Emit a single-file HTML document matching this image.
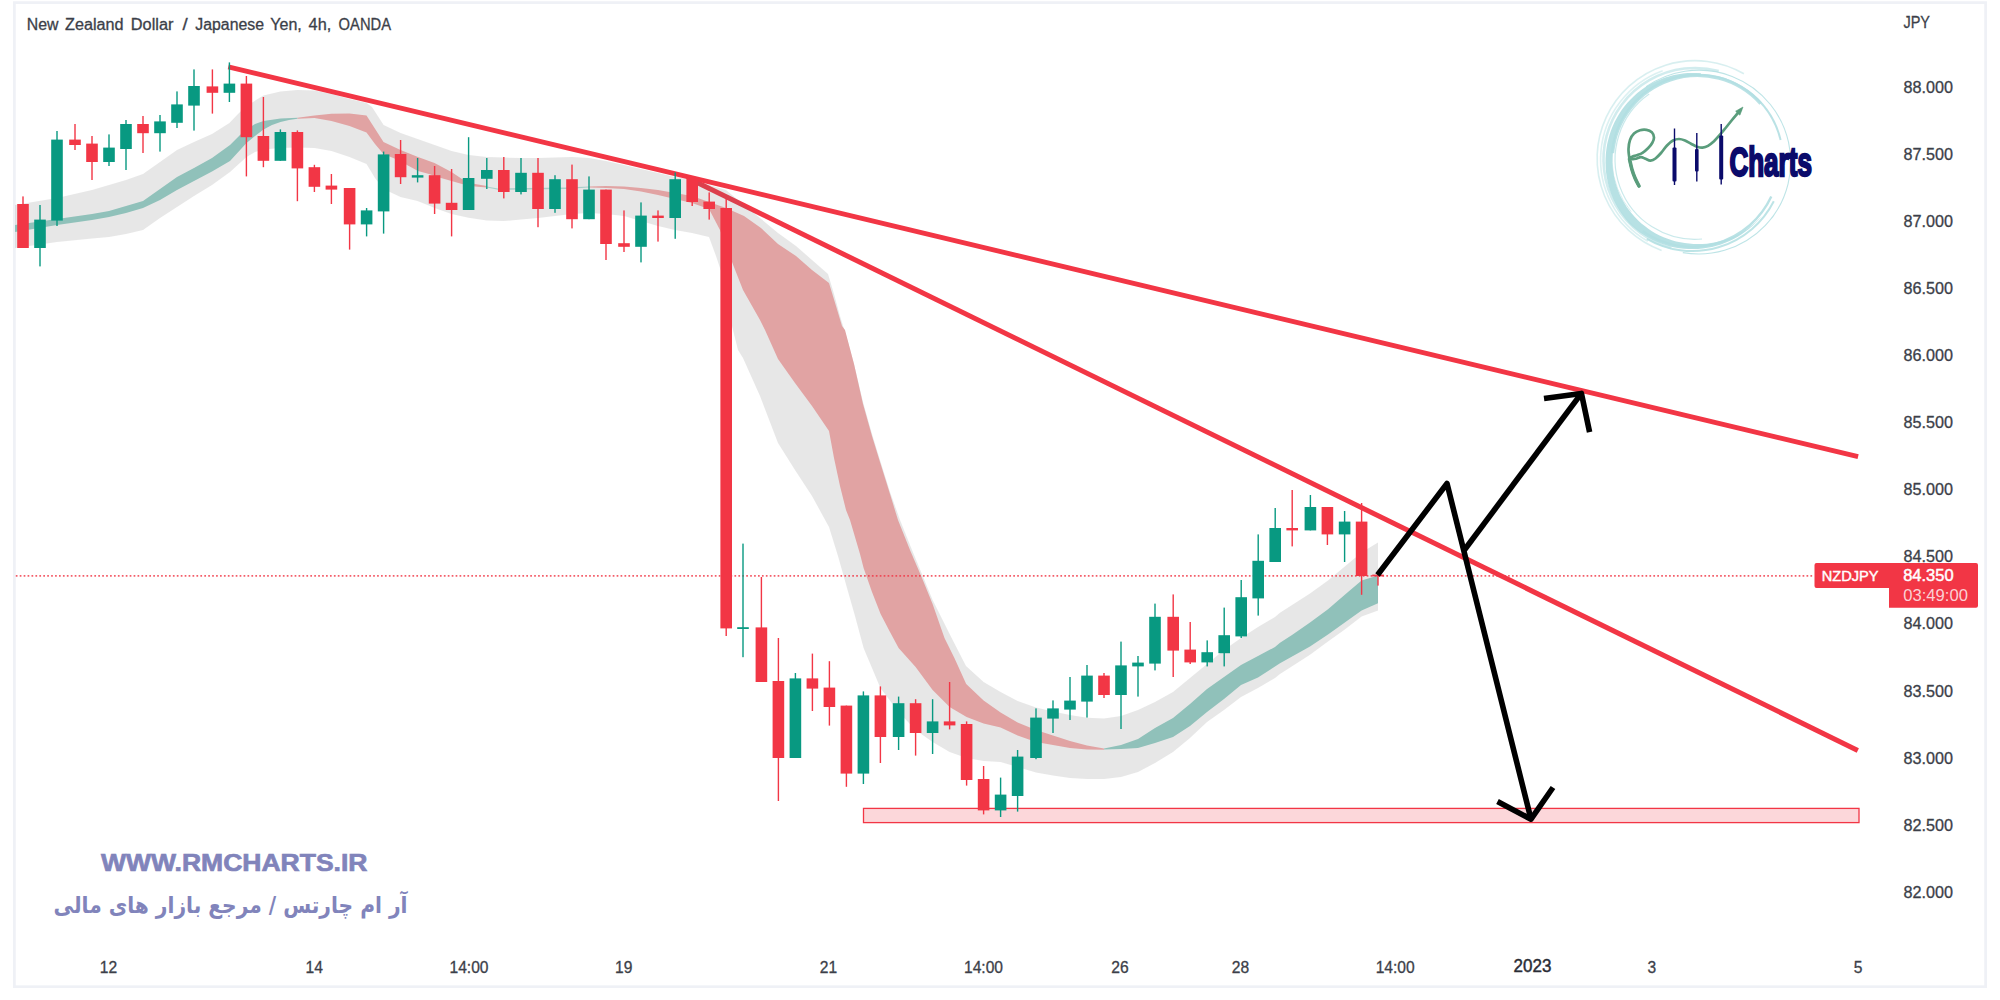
<!DOCTYPE html>
<html><head><meta charset="utf-8"><title>NZDJPY 4h</title>
<style>
html,body{margin:0;padding:0;background:#fff;}
body{width:2000px;height:1000px;overflow:hidden;font-family:"Liberation Sans","DejaVu Sans",sans-serif;}
svg{display:block}
.ax{font-family:"Liberation Sans",sans-serif;font-size:15.6px;fill:#3c3f49;stroke:#3c3f49;stroke-width:0.3px;}
.t{font-family:"Liberation Sans",sans-serif;}
</style></head><body>
<svg width="2000" height="1000" viewBox="0 0 2000 1000">
<rect x="0" y="0" width="2000" height="1000" fill="#ffffff"/>
<rect x="14.4" y="2.6" width="1971.2" height="984.1" fill="#ffffff" stroke="#eff1f6" stroke-width="2.7"/>

<g stroke="#f23645" stroke-width="4.7" stroke-linecap="butt">
<line x1="228.3" y1="66.8" x2="1858.1" y2="456.7" stroke-width="4.9"/>
<line x1="692.5" y1="180.3" x2="1857.8" y2="750.4" stroke-width="5"/>
</g>
<g>
<polygon points="15.0,205.0 57.0,198.0 92.0,190.0 126.0,180.0 143.0,174.0 160.0,162.0 177.0,150.0 194.0,142.0 212.0,134.0 229.4,123.0 238.0,114.0 246.4,106.0 263.4,95.6 280.4,91.6 297.4,90.0 314.4,90.4 331.4,94.0 349.6,99.0 366.6,103.0 372.0,107.0 383.6,125.0 400.6,133.0 417.6,139.0 434.6,145.0 451.6,151.0 468.6,155.0 486.8,157.0 503.8,157.6 521.0,158.0 538.0,158.0 555.0,157.6 572.0,157.0 589.0,158.0 606.0,161.0 624.0,165.0 641.0,169.0 658.0,173.0 675.2,177.0 692.2,180.0 709.2,185.0 726.0,190.0 744.0,205.0 760.0,218.0 778.0,233.0 796.0,246.0 812.0,260.0 828.0,274.0 834.0,294.0 840.0,316.0 848.0,342.0 854.0,364.0 863.0,402.0 872.0,434.0 880.0,460.0 890.0,492.0 900.0,520.0 912.0,550.0 932.6,600.0 949.6,634.0 966.0,666.0 983.6,682.0 1000.6,692.0 1017.6,701.0 1036.0,707.5 1053.0,711.5 1070.0,715.0 1087.0,717.8 1104.0,718.6 1121.0,716.0 1138.0,710.0 1155.0,702.0 1173.0,692.0 1190.0,678.0 1207.0,664.0 1224.0,650.0 1241.0,638.0 1258.0,627.0 1275.0,617.0 1280.0,612.8 1310.0,593.6 1328.0,580.4 1344.8,566.6 1361.6,552.5 1378.0,542.6 1378.0,610.6 1361.6,616.4 1344.8,629.6 1328.0,641.6 1310.0,654.8 1280.0,674.0 1275.0,678.0 1258.0,688.0 1241.0,697.0 1224.0,710.0 1207.0,722.0 1190.0,738.0 1173.0,752.0 1155.0,763.0 1138.0,772.0 1121.0,777.0 1104.0,779.0 1087.0,779.0 1070.0,778.0 1053.0,775.6 1036.0,772.5 1017.6,767.0 1000.6,762.0 983.6,761.0 966.6,758.0 949.6,752.0 932.6,742.0 915.6,730.0 898.6,712.0 880.4,688.0 872.0,668.0 863.6,648.0 855.0,616.0 847.0,588.0 838.0,556.0 829.0,527.0 812.0,496.0 795.0,470.0 778.0,443.0 760.0,396.0 743.0,358.0 738.0,350.0 732.0,326.0 724.0,280.0 716.0,256.0 709.0,237.0 692.0,233.0 675.0,230.0 658.0,226.0 641.0,221.0 624.0,216.0 606.0,214.0 589.0,213.0 572.0,214.0 555.0,216.0 538.0,218.0 521.0,219.6 503.8,221.0 486.8,220.6 468.6,217.8 451.6,214.0 434.6,208.0 430.0,206.0 417.5,201.0 400.5,197.0 383.5,189.0 375.0,178.0 366.5,164.0 349.5,157.0 331.5,151.0 314.5,148.0 297.5,147.5 280.5,148.0 263.5,149.5 255.0,152.0 246.5,157.0 230.0,172.0 212.0,185.0 194.0,196.0 177.0,207.0 160.0,218.0 143.0,230.0 126.0,234.0 109.0,237.0 92.0,238.6 57.0,242.0 15.0,248.0" fill="rgba(110,110,110,0.17)" />
<polygon points="15.0,225.0 57.0,219.0 92.0,214.0 109.0,211.0 126.0,206.0 143.0,201.0 160.0,189.0 177.0,177.0 194.0,168.0 212.0,158.0 230.0,145.0 240.0,135.0 246.5,129.5 255.0,124.0 263.5,121.0 280.5,118.5 297.5,117.8 297.5,118.8 289.0,120.0 280.5,122.0 272.0,125.0 263.5,129.5 255.0,136.0 246.5,143.0 230.0,161.0 212.0,171.5 194.0,181.0 177.0,190.0 160.0,200.0 143.0,208.0 126.0,213.0 109.0,217.0 92.0,220.0 57.0,225.0 15.0,232.0" fill="#90c1ba" />
<polygon points="297.5,117.8 314.5,115.5 331.5,113.8 349.5,113.5 366.5,115.5 383.5,142.0 400.5,150.0 418.0,157.0 434.5,163.0 451.5,172.0 462.0,179.0 475.0,184.0 486.8,186.0 486.8,187.4 475.0,186.5 462.0,184.0 451.5,181.0 441.0,178.0 429.0,174.0 418.0,171.0 407.0,165.0 400.5,161.0 383.5,154.0 375.0,144.0 366.5,132.5 349.5,126.0 331.5,121.0 314.5,118.0 297.5,118.8" fill="#e1a3a3" />
<polygon points="486.8,186.4 498.0,188.5 566.0,187.6 589.0,186.6 589.0,187.6 566.0,189.0 498.0,189.8 486.8,187.4" fill="#a9cfc9" />
<polygon points="589.0,186.4 606.0,186.0 624.0,186.4 641.0,188.0 658.0,190.0 675.0,193.0 692.0,196.0 709.0,202.0 726.0,208.0 744.0,216.0 761.0,228.0 778.0,244.0 796.0,256.0 812.0,270.0 829.0,283.0 836.0,306.0 842.0,326.0 845.0,330.0 854.0,364.0 863.0,404.0 872.0,436.0 880.0,462.0 890.0,494.0 898.0,520.0 910.0,550.0 922.0,578.0 932.6,604.0 944.5,638.0 954.4,658.0 966.2,684.0 983.6,700.5 1000.6,712.5 1017.6,722.5 1036.0,730.0 1053.0,735.5 1070.0,741.0 1087.0,745.6 1104.0,748.6 1104.0,749.8 1087.0,749.6 1070.0,748.0 1053.0,745.0 1036.0,742.0 1017.6,735.5 1000.6,727.5 983.6,723.5 966.6,717.0 949.6,707.0 932.6,690.0 915.6,667.0 898.6,648.0 890.0,632.0 880.6,614.0 872.0,592.0 863.6,568.0 860.0,554.0 850.0,520.0 846.0,510.0 840.0,486.0 834.0,458.0 829.0,431.0 812.0,406.0 795.0,383.0 778.0,359.0 765.0,330.0 760.0,320.0 743.0,290.0 732.0,262.0 720.0,230.0 709.0,209.0 692.0,203.0 675.0,199.0 658.0,195.0 641.0,191.6 624.0,189.0 606.0,188.0 589.0,187.6" fill="#e1a3a3" />
<polygon points="1104.0,748.6 1121.0,745.0 1138.0,739.0 1155.0,728.0 1173.0,718.0 1190.0,704.0 1207.0,689.0 1224.0,677.0 1241.0,665.0 1258.0,656.0 1275.0,647.0 1280.0,642.8 1292.0,635.0 1310.0,622.4 1328.0,609.2 1344.8,594.8 1361.6,580.4 1378.0,575.6 1378.0,603.2 1361.6,610.4 1344.8,622.4 1328.0,634.4 1310.0,646.4 1280.0,663.2 1258.0,677.5 1241.0,685.0 1224.0,699.0 1207.0,712.0 1190.0,726.0 1173.0,737.0 1155.0,743.0 1138.0,748.0 1121.0,749.0 1104.0,749.4" fill="#90c1ba" />
</g>
<rect x="863.5" y="808.4" width="995.5" height="14.2" fill="rgba(242,54,69,0.2)" stroke="#f23645" stroke-width="1.3"/>
<line x1="15.8" y1="575.85" x2="1813" y2="575.85" stroke="#f23645" stroke-width="1.7" stroke-dasharray="1.7 2.227" opacity="0.8"/>
<g>
<rect x="22.3" y="196.4" width="1.4" height="51.6" fill="#f23645"/>
<rect x="17.2" y="204.0" width="11.6" height="44.0" fill="#f23645"/>
<rect x="39.3" y="205.0" width="1.4" height="61.4" fill="#089981"/>
<rect x="34.2" y="219.6" width="11.6" height="28.4" fill="#089981"/>
<rect x="56.3" y="131.0" width="1.4" height="95.0" fill="#089981"/>
<rect x="51.2" y="139.6" width="11.6" height="81.0" fill="#089981"/>
<rect x="74.3" y="124.0" width="1.4" height="26.0" fill="#f23645"/>
<rect x="69.2" y="139.6" width="11.6" height="5.4" fill="#f23645"/>
<rect x="91.3" y="136.0" width="1.4" height="44.0" fill="#f23645"/>
<rect x="86.2" y="143.6" width="11.6" height="18.4" fill="#f23645"/>
<rect x="108.3" y="134.4" width="1.4" height="31.6" fill="#089981"/>
<rect x="103.2" y="147.6" width="11.6" height="14.4" fill="#089981"/>
<rect x="125.3" y="120.0" width="1.4" height="50.0" fill="#089981"/>
<rect x="120.2" y="124.0" width="11.6" height="25.0" fill="#089981"/>
<rect x="142.3" y="116.0" width="1.4" height="37.0" fill="#f23645"/>
<rect x="137.2" y="124.0" width="11.6" height="9.2" fill="#f23645"/>
<rect x="159.3" y="115.0" width="1.4" height="36.6" fill="#089981"/>
<rect x="154.2" y="121.4" width="11.6" height="11.8" fill="#089981"/>
<rect x="176.3" y="91.4" width="1.4" height="36.6" fill="#089981"/>
<rect x="171.2" y="104.4" width="11.6" height="18.4" fill="#089981"/>
<rect x="193.3" y="69.4" width="1.4" height="61.2" fill="#089981"/>
<rect x="188.2" y="86.0" width="11.6" height="19.6" fill="#089981"/>
<rect x="211.7" y="69.4" width="1.4" height="44.2" fill="#f23645"/>
<rect x="206.6" y="86.4" width="11.6" height="6.4" fill="#f23645"/>
<rect x="228.7" y="62.4" width="1.4" height="39.6" fill="#089981"/>
<rect x="223.6" y="83.6" width="11.6" height="9.2" fill="#089981"/>
<rect x="245.7" y="76.0" width="1.4" height="100.4" fill="#f23645"/>
<rect x="240.6" y="83.6" width="11.6" height="53.6" fill="#f23645"/>
<rect x="262.7" y="97.0" width="1.4" height="70.2" fill="#f23645"/>
<rect x="257.6" y="136.0" width="11.6" height="24.8" fill="#f23645"/>
<rect x="279.7" y="129.4" width="1.4" height="31.4" fill="#089981"/>
<rect x="274.6" y="132.0" width="11.6" height="28.8" fill="#089981"/>
<rect x="296.7" y="130.4" width="1.4" height="70.8" fill="#f23645"/>
<rect x="291.6" y="132.0" width="11.6" height="36.4" fill="#f23645"/>
<rect x="313.7" y="164.8" width="1.4" height="27.2" fill="#f23645"/>
<rect x="308.6" y="167.2" width="11.6" height="19.6" fill="#f23645"/>
<rect x="330.7" y="174.0" width="1.4" height="30.0" fill="#f23645"/>
<rect x="325.6" y="185.6" width="11.6" height="4.0" fill="#f23645"/>
<rect x="348.9" y="188.0" width="1.4" height="61.6" fill="#f23645"/>
<rect x="343.8" y="188.0" width="11.6" height="36.4" fill="#f23645"/>
<rect x="365.9" y="208.0" width="1.4" height="28.4" fill="#089981"/>
<rect x="360.8" y="210.4" width="11.6" height="14.0" fill="#089981"/>
<rect x="382.9" y="151.6" width="1.4" height="82.0" fill="#089981"/>
<rect x="377.8" y="154.4" width="11.6" height="57.0" fill="#089981"/>
<rect x="399.9" y="140.0" width="1.4" height="44.0" fill="#f23645"/>
<rect x="394.8" y="154.0" width="11.6" height="23.2" fill="#f23645"/>
<rect x="416.9" y="158.0" width="1.4" height="24.4" fill="#089981"/>
<rect x="411.8" y="175.2" width="11.6" height="2.4" fill="#089981"/>
<rect x="433.9" y="166.0" width="1.4" height="48.0" fill="#f23645"/>
<rect x="428.8" y="175.2" width="11.6" height="28.4" fill="#f23645"/>
<rect x="450.9" y="169.0" width="1.4" height="67.4" fill="#f23645"/>
<rect x="445.8" y="202.8" width="11.6" height="7.2" fill="#f23645"/>
<rect x="467.9" y="137.2" width="1.4" height="72.8" fill="#089981"/>
<rect x="462.8" y="178.0" width="11.6" height="32.0" fill="#089981"/>
<rect x="486.1" y="158.0" width="1.4" height="31.0" fill="#089981"/>
<rect x="481.0" y="170.0" width="11.6" height="8.8" fill="#089981"/>
<rect x="503.1" y="157.0" width="1.4" height="41.4" fill="#f23645"/>
<rect x="498.0" y="170.0" width="11.6" height="22.0" fill="#f23645"/>
<rect x="520.3" y="158.0" width="1.4" height="36.4" fill="#089981"/>
<rect x="515.2" y="172.8" width="11.6" height="19.2" fill="#089981"/>
<rect x="537.3" y="158.0" width="1.4" height="69.2" fill="#f23645"/>
<rect x="532.2" y="172.8" width="11.6" height="36.2" fill="#f23645"/>
<rect x="554.3" y="175.2" width="1.4" height="37.6" fill="#089981"/>
<rect x="549.2" y="179.2" width="11.6" height="29.8" fill="#089981"/>
<rect x="571.3" y="164.6" width="1.4" height="63.8" fill="#f23645"/>
<rect x="566.2" y="179.2" width="11.6" height="40.0" fill="#f23645"/>
<rect x="588.3" y="176.4" width="1.4" height="42.8" fill="#089981"/>
<rect x="583.2" y="189.6" width="11.6" height="29.6" fill="#089981"/>
<rect x="605.3" y="189.6" width="1.4" height="70.4" fill="#f23645"/>
<rect x="600.2" y="189.6" width="11.6" height="54.4" fill="#f23645"/>
<rect x="623.3" y="210.4" width="1.4" height="41.6" fill="#f23645"/>
<rect x="618.2" y="243.2" width="11.6" height="3.6" fill="#f23645"/>
<rect x="640.3" y="202.4" width="1.4" height="60.0" fill="#089981"/>
<rect x="635.2" y="215.6" width="11.6" height="31.2" fill="#089981"/>
<rect x="657.3" y="210.4" width="1.4" height="31.2" fill="#f23645"/>
<rect x="652.2" y="215.6" width="11.6" height="2.4" fill="#f23645"/>
<rect x="674.5" y="172.4" width="1.4" height="66.4" fill="#089981"/>
<rect x="669.4" y="179.2" width="11.6" height="38.8" fill="#089981"/>
<rect x="691.5" y="177.0" width="1.4" height="29.0" fill="#f23645"/>
<rect x="686.4" y="178.0" width="11.6" height="24.0" fill="#f23645"/>
<rect x="708.5" y="192.4" width="1.4" height="27.2" fill="#f23645"/>
<rect x="703.4" y="201.6" width="11.6" height="7.4" fill="#f23645"/>
<rect x="725.5" y="199.0" width="1.4" height="437.0" fill="#f23645"/>
<rect x="720.4" y="208.0" width="11.6" height="420.4" fill="#f23645"/>
<rect x="742.3" y="543.6" width="1.4" height="113.6" fill="#089981"/>
<rect x="737.2" y="627.2" width="11.6" height="1.8" fill="#089981"/>
<rect x="760.7" y="577.0" width="1.4" height="105.0" fill="#f23645"/>
<rect x="755.6" y="627.4" width="11.6" height="54.6" fill="#f23645"/>
<rect x="777.7" y="638.0" width="1.4" height="163.0" fill="#f23645"/>
<rect x="772.6" y="681.0" width="11.6" height="77.0" fill="#f23645"/>
<rect x="794.7" y="673.0" width="1.4" height="85.0" fill="#089981"/>
<rect x="789.6" y="678.4" width="11.6" height="79.6" fill="#089981"/>
<rect x="811.7" y="653.6" width="1.4" height="57.4" fill="#f23645"/>
<rect x="806.6" y="678.4" width="11.6" height="10.2" fill="#f23645"/>
<rect x="828.7" y="661.2" width="1.4" height="64.4" fill="#f23645"/>
<rect x="823.6" y="687.6" width="11.6" height="19.4" fill="#f23645"/>
<rect x="845.7" y="705.6" width="1.4" height="81.2" fill="#f23645"/>
<rect x="840.6" y="705.6" width="11.6" height="68.0" fill="#f23645"/>
<rect x="862.7" y="691.4" width="1.4" height="92.6" fill="#089981"/>
<rect x="857.6" y="695.4" width="11.6" height="78.2" fill="#089981"/>
<rect x="879.7" y="686.4" width="1.4" height="76.6" fill="#f23645"/>
<rect x="874.6" y="695.4" width="11.6" height="41.6" fill="#f23645"/>
<rect x="897.9" y="696.6" width="1.4" height="53.4" fill="#089981"/>
<rect x="892.8" y="703.2" width="11.6" height="33.8" fill="#089981"/>
<rect x="914.9" y="699.2" width="1.4" height="56.4" fill="#f23645"/>
<rect x="909.8" y="703.2" width="11.6" height="29.8" fill="#f23645"/>
<rect x="931.9" y="699.2" width="1.4" height="54.8" fill="#089981"/>
<rect x="926.8" y="721.4" width="11.6" height="11.6" fill="#089981"/>
<rect x="948.9" y="682.0" width="1.4" height="47.4" fill="#f23645"/>
<rect x="943.8" y="721.4" width="11.6" height="4.0" fill="#f23645"/>
<rect x="965.9" y="721.4" width="1.4" height="64.2" fill="#f23645"/>
<rect x="960.8" y="724.0" width="11.6" height="56.0" fill="#f23645"/>
<rect x="982.9" y="766.0" width="1.4" height="48.4" fill="#f23645"/>
<rect x="977.8" y="779.0" width="11.6" height="31.4" fill="#f23645"/>
<rect x="999.9" y="777.6" width="1.4" height="39.4" fill="#089981"/>
<rect x="994.8" y="794.6" width="11.6" height="15.8" fill="#089981"/>
<rect x="1016.9" y="750.0" width="1.4" height="61.6" fill="#089981"/>
<rect x="1011.8" y="756.6" width="11.6" height="39.4" fill="#089981"/>
<rect x="1035.3" y="708.4" width="1.4" height="50.8" fill="#089981"/>
<rect x="1030.2" y="717.6" width="11.6" height="40.4" fill="#089981"/>
<rect x="1052.3" y="700.4" width="1.4" height="32.6" fill="#089981"/>
<rect x="1047.2" y="708.4" width="11.6" height="10.2" fill="#089981"/>
<rect x="1069.3" y="677.0" width="1.4" height="43.0" fill="#089981"/>
<rect x="1064.2" y="700.6" width="11.6" height="9.0" fill="#089981"/>
<rect x="1086.3" y="665.0" width="1.4" height="52.6" fill="#089981"/>
<rect x="1081.2" y="675.6" width="11.6" height="26.0" fill="#089981"/>
<rect x="1103.3" y="673.0" width="1.4" height="25.0" fill="#f23645"/>
<rect x="1098.2" y="675.6" width="11.6" height="19.4" fill="#f23645"/>
<rect x="1120.3" y="641.6" width="1.4" height="87.4" fill="#089981"/>
<rect x="1115.2" y="665.4" width="11.6" height="29.6" fill="#089981"/>
<rect x="1137.3" y="656.0" width="1.4" height="40.6" fill="#089981"/>
<rect x="1132.2" y="662.6" width="11.6" height="3.8" fill="#089981"/>
<rect x="1154.3" y="603.6" width="1.4" height="66.8" fill="#089981"/>
<rect x="1149.2" y="616.8" width="11.6" height="46.8" fill="#089981"/>
<rect x="1172.5" y="594.4" width="1.4" height="82.6" fill="#f23645"/>
<rect x="1167.4" y="616.8" width="11.6" height="33.8" fill="#f23645"/>
<rect x="1189.5" y="622.0" width="1.4" height="42.0" fill="#f23645"/>
<rect x="1184.4" y="649.6" width="11.6" height="12.8" fill="#f23645"/>
<rect x="1206.5" y="640.4" width="1.4" height="26.0" fill="#089981"/>
<rect x="1201.4" y="652.2" width="11.6" height="10.2" fill="#089981"/>
<rect x="1223.5" y="607.6" width="1.4" height="58.8" fill="#089981"/>
<rect x="1218.4" y="635.2" width="11.6" height="18.0" fill="#089981"/>
<rect x="1240.5" y="580.0" width="1.4" height="58.0" fill="#089981"/>
<rect x="1235.4" y="597.2" width="11.6" height="39.2" fill="#089981"/>
<rect x="1257.5" y="534.4" width="1.4" height="81.2" fill="#089981"/>
<rect x="1252.4" y="560.8" width="11.6" height="37.6" fill="#089981"/>
<rect x="1274.5" y="508.0" width="1.4" height="54.0" fill="#089981"/>
<rect x="1269.4" y="528.0" width="11.6" height="34.0" fill="#089981"/>
<rect x="1291.5" y="490.0" width="1.4" height="56.4" fill="#f23645"/>
<rect x="1286.4" y="528.0" width="11.6" height="2.4" fill="#f23645"/>
<rect x="1309.7" y="495.0" width="1.4" height="35.4" fill="#089981"/>
<rect x="1304.6" y="507.0" width="11.6" height="23.4" fill="#089981"/>
<rect x="1326.7" y="507.0" width="1.4" height="38.0" fill="#f23645"/>
<rect x="1321.6" y="507.0" width="11.6" height="27.4" fill="#f23645"/>
<rect x="1343.9" y="511.0" width="1.4" height="51.0" fill="#089981"/>
<rect x="1338.8" y="521.6" width="11.6" height="12.8" fill="#089981"/>
<rect x="1360.9" y="503.0" width="1.4" height="91.8" fill="#f23645"/>
<rect x="1355.8" y="521.6" width="11.6" height="54.4" fill="#f23645"/>
<rect x="1377.3" y="574.0" width="1.4" height="11.6" fill="#f23645"/>
<rect x="1372.2" y="574.6" width="11.6" height="1.8" fill="#f23645"/>
</g>
<g fill="none" stroke="#000" stroke-width="5.6" stroke-linejoin="round" stroke-linecap="butt">
<polyline points="1377.5,575 1447,483.5 1531,819.2"/>
<polyline points="1497.5,801.5 1531,819.2 1553,787.5"/>
<polyline points="1464.4,550 1581.4,393.4"/>
<polyline points="1544,398.6 1581.4,393.4 1589.6,432.2"/>
</g>
<g class="ax">
<text x="1903.5" y="28" textLength="26.5" lengthAdjust="spacingAndGlyphs">JPY</text>
<text x="1903.5" y="92.8" textLength="49.5" lengthAdjust="spacingAndGlyphs">88.000</text>
<text x="1903.5" y="159.8" textLength="49.5" lengthAdjust="spacingAndGlyphs">87.500</text>
<text x="1903.5" y="226.8" textLength="49.5" lengthAdjust="spacingAndGlyphs">87.000</text>
<text x="1903.5" y="293.8" textLength="49.5" lengthAdjust="spacingAndGlyphs">86.500</text>
<text x="1903.5" y="360.8" textLength="49.5" lengthAdjust="spacingAndGlyphs">86.000</text>
<text x="1903.5" y="427.8" textLength="49.5" lengthAdjust="spacingAndGlyphs">85.500</text>
<text x="1903.5" y="495.3" textLength="49.5" lengthAdjust="spacingAndGlyphs">85.000</text>
<text x="1903.5" y="562.3" textLength="49.5" lengthAdjust="spacingAndGlyphs">84.500</text>
<text x="1903.5" y="629.3" textLength="49.5" lengthAdjust="spacingAndGlyphs">84.000</text>
<text x="1903.5" y="696.8" textLength="49.5" lengthAdjust="spacingAndGlyphs">83.500</text>
<text x="1903.5" y="763.8" textLength="49.5" lengthAdjust="spacingAndGlyphs">83.000</text>
<text x="1903.5" y="830.8" textLength="49.5" lengthAdjust="spacingAndGlyphs">82.500</text>
<text x="1903.5" y="897.8" textLength="49.5" lengthAdjust="spacingAndGlyphs">82.000</text>
<text x="108.5" y="972.5" text-anchor="middle">12</text>
<text x="314.3" y="972.5" text-anchor="middle">14</text>
<text x="469.0" y="972.5" text-anchor="middle">14:00</text>
<text x="623.7" y="972.5" text-anchor="middle">19</text>
<text x="828.5" y="972.5" text-anchor="middle">21</text>
<text x="983.5" y="972.5" text-anchor="middle">14:00</text>
<text x="1120.0" y="972.5" text-anchor="middle">26</text>
<text x="1240.4" y="972.5" text-anchor="middle">28</text>
<text x="1395.2" y="972.5" text-anchor="middle">14:00</text>
<text x="1651.8" y="972.5" text-anchor="middle">3</text>
<text x="1858.0" y="972.5" text-anchor="middle">5</text>
<text x="1513.6" y="972.3" font-size="17.6" fill="#2a2d36" stroke="#2a2d36" stroke-width="0.45" textLength="37.8" lengthAdjust="spacingAndGlyphs">2023</text>
</g>
<text class="ax" x="26.8" y="29.6" textLength="31.7" lengthAdjust="spacingAndGlyphs">New</text>
<text class="ax" x="65.0" y="29.6" textLength="58.5" lengthAdjust="spacingAndGlyphs">Zealand</text>
<text class="ax" x="130.8" y="29.6" textLength="42.7" lengthAdjust="spacingAndGlyphs">Dollar</text>
<text class="ax" x="182.4" y="29.6" textLength="5.2" lengthAdjust="spacingAndGlyphs">/</text>
<text class="ax" x="195.3" y="29.6" textLength="68.7" lengthAdjust="spacingAndGlyphs">Japanese</text>
<text class="ax" x="270.3" y="29.6" textLength="31.5" lengthAdjust="spacingAndGlyphs">Yen,</text>
<text class="ax" x="308.6" y="29.6" textLength="22.6" lengthAdjust="spacingAndGlyphs">4h,</text>
<text class="ax" x="338.6" y="29.6" textLength="52.4" lengthAdjust="spacingAndGlyphs">OANDA</text>
<path d="M1816.5,563 H1976 a2,2 0 0 1 2,2 V605.7 a2,2 0 0 1 -2,2 H1889 V588 H1816.5 a2,2 0 0 1 -2,-2 V565 a2,2 0 0 1 2,-2 Z" fill="#f23645"/>
<text class="t" x="1821.8" y="581.3" font-size="14.6" fill="#fff" stroke="#fff" stroke-width="0.45" textLength="56.7" lengthAdjust="spacingAndGlyphs">NZDJPY</text>
<text class="t" x="1903.2" y="581.3" font-size="15.6" fill="#fff" stroke="#fff" stroke-width="0.45" textLength="50.4" lengthAdjust="spacingAndGlyphs">84.350</text>
<text class="t" x="1903.2" y="600.6" font-size="15.6" fill="#fbd0d4" textLength="64.8" lengthAdjust="spacingAndGlyphs">03:49:00</text>
<text class="t" x="101" y="871" font-size="24" font-weight="bold" fill="#8184bb" stroke="#8184bb" stroke-width="0.7" textLength="266.5" lengthAdjust="spacingAndGlyphs">WWW.RMCHARTS.IR</text>
<text x="407.5" y="913" font-family="'DejaVu Sans',sans-serif" font-size="23" font-weight="bold" fill="#8184bb" direction="rtl" text-anchor="start" textLength="354" lengthAdjust="spacingAndGlyphs">آر ام چارتس / مرجع بازار های مالی</text>
<g fill="none" stroke="#b2dfe2" stroke-linecap="butt">
<path d="M1646.1,86.8 A91.9,91.9 0 1 1 1682.8,252.6" stroke-width="1.1" opacity="0.85"/>
<path d="M1612.0,153.1 A85.7,85.7 0 0 1 1780.6,139.9" stroke-width="2.0" opacity="0.90"/>
<path d="M1612.5,153.2 A85.2,85.2 0 0 1 1760.7,103.6" stroke-width="3.4" opacity="0.90"/>
<path d="M1771.3,196.6 A87.0,87.0 0 0 1 1642.6,231.1" stroke-width="2.4" opacity="0.90"/>
<path d="M1773.8,201.2 A91.2,91.2 0 0 1 1646.9,238.8" stroke-width="2.0" opacity="0.85"/>
<path d="M1671.3,247.9 A91.5,91.5 0 0 1 1718.7,71.1" stroke-width="2.6" opacity="0.60"/>
<path d="M1647.8,241.3 A94.5,94.5 0 0 1 1662.7,70.7" stroke-width="1.6" opacity="0.45"/>
<path d="M1661.6,250.4 A97.8,97.8 0 1 1 1743.9,73.8" stroke-width="1.6" opacity="0.50"/>
<path d="M1702.0,239.0 A79.8,79.8 0 0 1 1649.2,94.1" stroke-width="1.2" opacity="0.70"/>
<path d="M1631.2,211.7 A82.0,82.0 0 0 1 1626.8,112.0" stroke-width="1.0" opacity="0.50"/>
<polygon points="1762.0,215.7 1759.1,219.2 1755.9,222.6 1752.6,225.8 1749.1,228.8 1745.5,231.6 1741.7,234.2 1737.8,236.7 1733.7,238.9 1729.6,241.0 1725.3,242.8 1721.0,244.4 1716.5,245.8 1712.0,246.9 1707.4,247.8 1702.8,248.5 1698.1,248.9 1693.4,249.0 1688.7,249.0 1684.0,248.8 1679.4,248.2 1674.7,247.4 1670.1,246.4 1665.5,245.1 1661.0,243.6 1656.6,241.8 1652.3,239.8 1648.1,237.6 1644.0,235.1 1640.0,232.5 1636.2,229.6 1632.5,226.5 1629.0,223.2 1625.9,219.6 1623.0,215.8 1620.3,211.8 1617.8,207.8 1615.5,203.6 1613.4,199.3 1611.6,194.9 1610.0,190.4 1608.6,185.9 1607.5,181.3 1606.7,176.7 1606.0,172.0 1605.7,167.3 1605.5,162.6 1605.6,157.9 1605.9,153.3 1606.5,148.6 1607.2,144.0 1608.3,139.5 1609.5,135.0 1611.0,130.6 1612.7,126.2 1614.6,122.0 1616.8,117.9 1619.1,113.9 1621.7,110.1 1624.5,106.3 1627.4,102.8 1630.5,99.4 1633.8,96.2 1637.3,93.1 1640.9,90.3 1644.7,87.6 1648.6,85.2 1652.6,83.0 1656.7,81.0 1660.9,79.2 1665.2,77.6 1669.6,76.3 1674.0,75.1 1678.4,74.2 1682.9,73.6 1687.4,73.1 1692.0,72.9 1696.5,73.0 1701.0,73.2 1700.8,76.2 1696.5,76.1 1692.1,76.1 1687.7,76.4 1683.4,76.9 1679.1,77.6 1674.8,78.6 1670.6,79.8 1666.5,81.2 1662.5,82.9 1658.5,84.7 1654.7,86.8 1651.0,89.0 1647.4,91.5 1643.9,94.1 1640.6,96.9 1637.4,99.9 1634.4,103.0 1631.5,106.2 1628.8,109.6 1626.3,113.2 1624.0,116.9 1621.9,120.6 1620.0,124.5 1618.3,128.5 1616.8,132.6 1615.5,136.7 1614.4,140.9 1613.6,145.1 1613.0,149.4 1612.6,153.7 1612.4,158.1 1612.4,162.4 1612.6,166.7 1613.1,171.0 1613.8,175.3 1614.7,179.5 1615.8,183.7 1617.1,187.8 1618.7,191.9 1620.4,195.9 1622.4,199.7 1624.6,203.5 1626.9,207.2 1629.5,210.7 1632.2,214.1 1635.1,217.3 1638.2,220.4 1641.4,223.4 1644.8,226.1 1648.3,228.7 1651.9,231.2 1655.7,233.4 1659.6,235.4 1663.6,237.2 1667.7,238.8 1671.9,240.2 1676.1,241.4 1680.4,242.3 1684.7,243.1 1689.1,243.6 1693.5,243.9 1698.0,244.1 1702.4,244.0 1706.8,243.7 1711.3,243.1 1715.7,242.3 1720.0,241.3 1724.3,240.1 1728.6,238.6 1732.8,236.9 1736.9,235.0 1740.8,232.9 1744.7,230.5 1748.5,227.9 1752.1,225.2 1755.6,222.2 1758.9,219.1 1762.0,215.7" fill="#b2dfe2" stroke="none" opacity="0.93"/>
</g>
<path d="M1639.0,186.0 C1638.3,184.7 1636.2,180.8 1635.0,178.0 C1633.8,175.2 1632.7,172.2 1631.8,169.0 C1630.9,165.8 1630.0,162.3 1629.5,159.0 C1629.0,155.7 1628.4,152.2 1628.5,149.0 C1628.6,145.8 1629.1,142.6 1630.0,140.0 C1630.9,137.4 1632.3,135.1 1634.0,133.5 C1635.7,131.9 1637.9,130.8 1640.0,130.2 C1642.1,129.6 1644.5,129.5 1646.5,129.8 C1648.5,130.1 1650.5,130.9 1651.8,132.2 C1653.0,133.5 1653.9,135.7 1654.0,137.5 C1654.1,139.3 1653.2,141.2 1652.2,143.0 C1651.2,144.8 1649.6,146.6 1648.0,148.2 C1646.4,149.8 1644.3,151.6 1642.5,152.8 C1640.7,154.0 1638.6,154.6 1637.0,155.2 C1635.4,155.8 1634.0,155.8 1633.0,156.2 C1632.0,156.6 1631.3,157.1 1631.2,157.6 C1631.1,158.1 1631.7,158.9 1632.5,159.1 C1633.3,159.3 1634.6,159.0 1636.0,158.7 C1637.4,158.4 1639.4,157.2 1641.0,157.2 C1642.6,157.2 1643.9,158.2 1645.5,158.8 C1647.1,159.4 1648.8,160.7 1650.5,160.6 C1652.2,160.5 1653.8,159.8 1655.5,158.5 C1657.2,157.2 1659.1,155.2 1661.0,153.0 C1662.9,150.8 1665.0,147.6 1667.0,145.5 C1669.0,143.4 1671.0,141.6 1673.0,140.5 C1675.0,139.4 1677.0,139.0 1679.0,139.0 C1681.0,139.0 1683.0,139.7 1685.0,140.5 C1687.0,141.3 1689.0,142.7 1691.0,143.7 C1693.0,144.7 1695.1,146.0 1697.0,146.7 C1698.9,147.3 1700.7,147.8 1702.5,147.6 C1704.3,147.4 1706.1,146.9 1708.0,145.8 C1709.9,144.7 1712.0,143.0 1714.0,141.2 C1716.0,139.3 1718.0,137.0 1720.0,134.7 C1722.0,132.4 1724.0,129.9 1726.0,127.5 C1728.0,125.0 1730.0,122.5 1732.0,120.0 C1734.0,117.5 1736.6,114.5 1738.0,112.8 C1739.4,111.1 1740.1,110.5 1740.5,110.0" fill="none" stroke="#5a9d7c" stroke-width="2.7" stroke-linecap="round" stroke-linejoin="round"/>
<path d="M1639.0,186.0 C1638.3,184.7 1636.2,180.8 1635.0,178.0 C1633.8,175.2 1632.7,172.2 1631.8,169.0 C1630.9,165.8 1629.9,160.7 1629.5,159.0" fill="none" stroke="#5a9d7c" stroke-width="3.6" stroke-linecap="round"/>
<path d="M1743,107 L1735.6,111.2 L1739.9,115.2 Z" fill="#5a9d7c" stroke="#5a9d7c" stroke-width="0.6" stroke-linejoin="round"/>
<rect x="1673.8" y="128.5" width="1.4" height="56.5" fill="#0b0b6b"/>
<rect x="1672.5" y="147.5" width="4.0" height="34.0" rx="1" fill="#0b0b6b"/>
<rect x="1696.1" y="133.0" width="1.4" height="48.5" fill="#0b0b6b"/>
<rect x="1695.0" y="149.0" width="3.6" height="22.5" rx="1" fill="#0b0b6b"/>
<rect x="1720.5" y="124.0" width="1.4" height="60.5" fill="#0b0b6b"/>
<rect x="1719.2" y="135.5" width="4.0" height="44.0" rx="1" fill="#0b0b6b"/>
<text class="t" x="1729.4" y="175.6" font-size="40" font-weight="bold" fill="#0b0b6b" stroke="#0b0b6b" stroke-width="2.3" stroke-linejoin="miter" textLength="82.5" lengthAdjust="spacingAndGlyphs">Charts</text>
</svg></body></html>
